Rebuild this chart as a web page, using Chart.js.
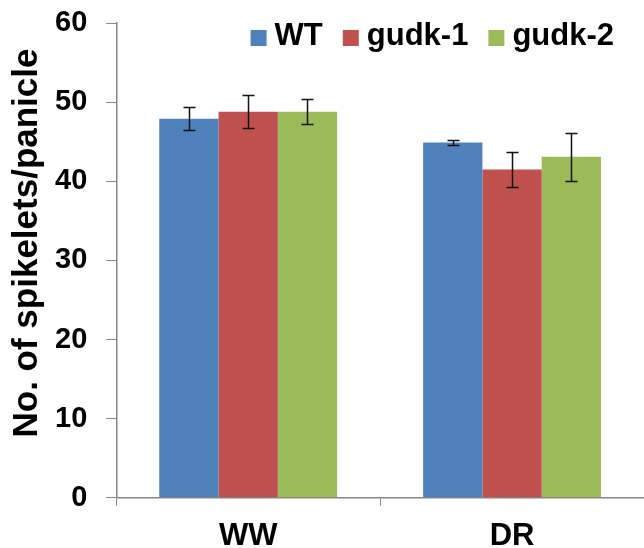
<!DOCTYPE html>
<html>
<head>
<meta charset="utf-8">
<script src="https://cdn.jsdelivr.net/npm/chart.js@4.4.1/dist/chart.umd.min.js"></script>
<style>
  html, body { margin: 0; padding: 0; background: #fff; }
  #wrap { width: 644px; height: 548px; }
</style>
</head>
<body>
<div id="wrap"><canvas id="chart"></canvas></div>
<script>
const categories = ["WW", "DR"];
const seriesNames = ["WT", "gudk-1", "gudk-2"];
const seriesColors = ["#4F81BD", "#C0504D", "#9BBB59"];
const wtValues = [47.9, 44.9];
const gudk1Values = [48.8, 41.5];
const gudk2Values = [48.8, 43.1];
const wtErrors = [1.45, 0.3];
const gudk1Errors = [2.1, 2.2];
const gudk2Errors = [1.55, 3.05];
const yTicks = [0, 10, 20, 30, 40, 50, 60];
const yTitle = "No. of spikelets/panicle";

const values = [wtValues, gudk1Values, gudk2Values];
const errors = [wtErrors, gudk1Errors, gudk2Errors];
const FONT = "Liberation Sans, Arial, sans-serif";

// error bars on top of each bar
const errorBars = {
  id: "errorBars",
  afterDatasetsDraw(chart) {
    const ctx = chart.ctx;
    const y = chart.scales.y;
    ctx.save();
    ctx.strokeStyle = "#111";
    ctx.lineWidth = 1.5;
    chart.data.datasets.forEach((ds, i) => {
      chart.getDatasetMeta(i).data.forEach((bar, j) => {
        const v = ds.data[j];
        const e = ds.errors[j];
        const top = Math.round(y.getPixelForValue(v + e)) + 0.5;
        const bot = Math.round(y.getPixelForValue(v - e)) + 0.5;
        const x = Math.round(bar.x) + 0.5;
        ctx.beginPath();
        ctx.moveTo(x, top); ctx.lineTo(x, bot);
        ctx.moveTo(x - 6, top); ctx.lineTo(x + 6, top);
        ctx.moveTo(x - 6, bot); ctx.lineTo(x + 6, bot);
        ctx.stroke();
      });
    });
    ctx.restore();
  }
};

// legend in the top right corner and the rotated y title
const decorations = {
  id: "decorations",
  afterDraw(chart) {
    const ctx = chart.ctx;
    ctx.save();
    ctx.font = "bold 31px " + FONT;
    ctx.textBaseline = "alphabetic";
    ctx.fillStyle = "#000";
    const box = 16, gap = 8, spacing = 20, rightEdge = 614, cy = 38;
    const widths = chart.data.datasets.map(ds => ctx.measureText(ds.label).width);
    let x = rightEdge - widths.reduce((a, w) => a + box + gap + w, 0) - spacing * (widths.length - 1);
    chart.data.datasets.forEach((ds, i) => {
      ctx.fillStyle = ds.backgroundColor;
      ctx.fillRect(x, cy - box / 2, box, box);
      x += box + gap;
      ctx.fillStyle = "#000";
      ctx.fillText(ds.label, x, 45);
      x += widths[i] + spacing;
    });

    ctx.font = "bold 35px " + FONT;
    ctx.translate(37, 243);
    ctx.rotate(-Math.PI / 2);
    ctx.textAlign = "center";
    ctx.fillText(yTitle, 0, 0);
    ctx.restore();
  }
};

new Chart(document.getElementById("chart"), {
  type: "bar",
  data: {
    labels: categories,
    datasets: seriesNames.map((name, i) => ({
      label: name,
      data: values[i],
      errors: errors[i],
      backgroundColor: seriesColors[i],
      borderWidth: 0,
      categoryPercentage: 0.674,
      barPercentage: 1.0,
    })),
  },
  options: {
    animation: false,
    responsive: true,
    maintainAspectRatio: false,
    layout: { padding: { top: 0, right: 0, left: 36, bottom: -19 } },
    plugins: {
      legend: { display: false },
      tooltip: { enabled: false },
    },
    scales: {
      x: {
        grid: { display: true, drawOnChartArea: false, drawTicks: true, tickLength: 8, color: "#868686", offset: true },
        border: { color: "#868686", width: 1.5 },
        ticks: { color: "#000", padding: 12, font: { family: FONT, size: 31, weight: "bold" } },
      },
      y: {
        min: 0,
        max: 60,
        afterBuildTicks: (scale) => { scale.ticks = yTicks.map(v => ({ value: v })); },
        grid: { display: true, drawOnChartArea: false, drawTicks: true, tickLength: 10, color: "#868686" },
        border: { color: "#868686", width: 1.5 },
        ticks: { color: "#000", padding: 19, font: { family: FONT, size: 29, weight: "bold", lineHeight: 0.28 } },
      },
    },
  },
  plugins: [errorBars, decorations],
});
</script>
</body>
</html>
